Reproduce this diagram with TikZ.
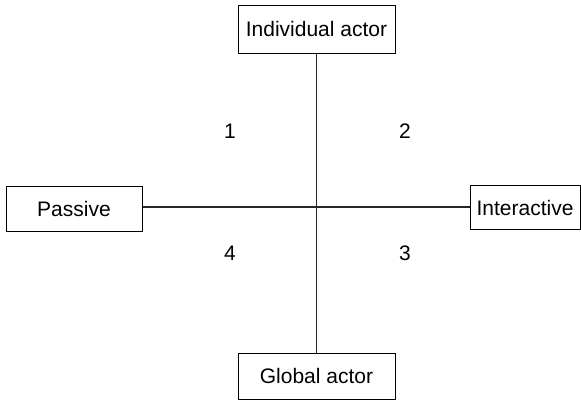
\documentclass[tikz,border=0pt]{standalone}
\usepackage{fontspec}
\setmainfont{Liberation Sans}
\begin{document}
\begin{tikzpicture}[x=1pt,y=-1pt,
  boxnode/.style={draw=black,line width=1pt,rectangle,inner sep=0pt,font=\fontsize{21}{25}\selectfont},
  numlabel/.style={inner sep=0pt,font=\fontsize{21}{25}\selectfont},
  axisline/.style={draw=black!85,line width=1.1pt}]
\useasboundingbox (0,0) rectangle (581,400);
\node[boxnode,minimum width=157pt,minimum height=48pt] (ind) at (316.5,29) {Individual actor};
\node[boxnode,minimum width=157pt,minimum height=46pt] (glob) at (316.5,376) {Global actor};
\node[boxnode,minimum width=136pt,minimum height=45pt] (pas) at (74,208.5) {Passive};
\node[boxnode,minimum width=110pt,minimum height=44pt] (int) at (525,207.5) {Interactive};
\coordinate (c) at (316,207);
\draw[axisline] (ind.south) -- (glob.north);
\draw[axisline] (pas.east |- c) -- (int.west |- c);
\node[numlabel] (n1) at (230,131) {1};
\node[numlabel] (n2) at (405,131) {2};
\node[numlabel] (n3) at (405,253) {3};
\node[numlabel] (n4) at (230,253) {4};
\end{tikzpicture}
\end{document}
